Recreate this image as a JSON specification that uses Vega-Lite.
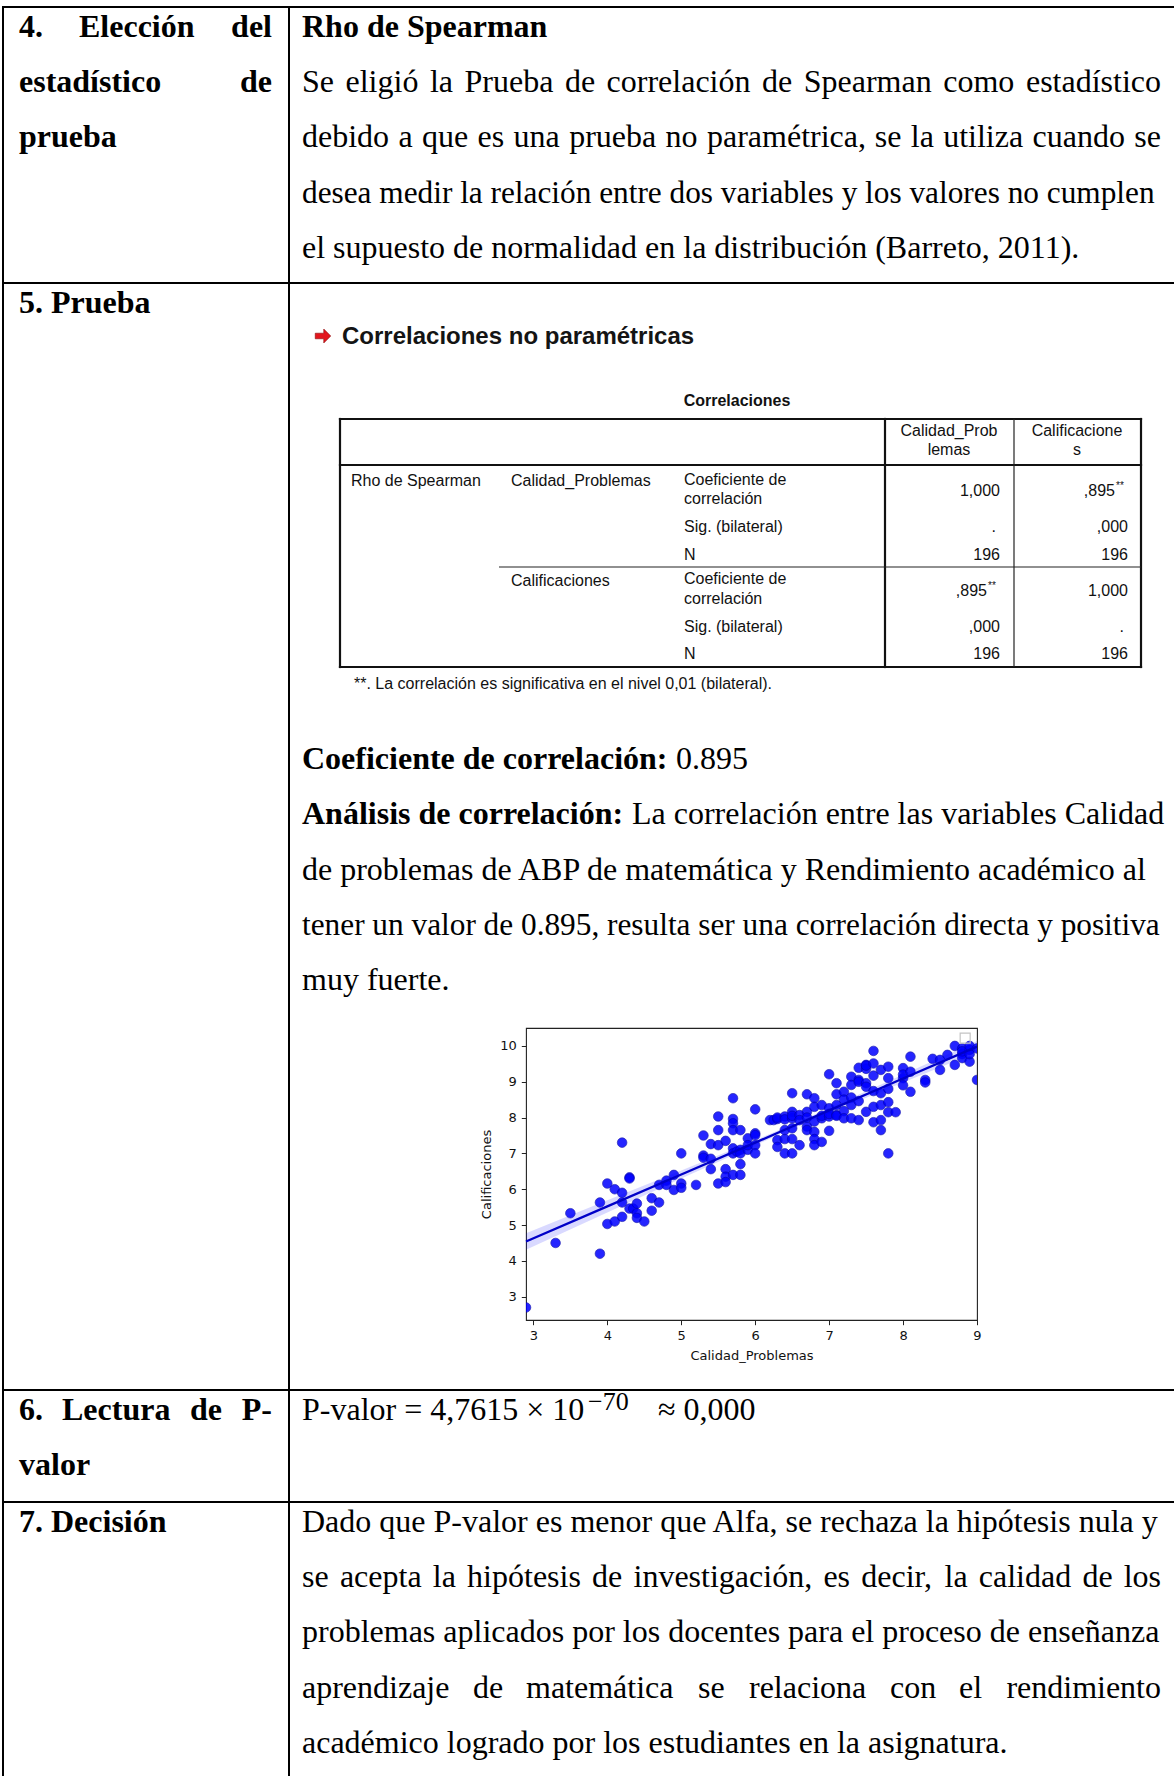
{
  "$schema": "https://vega.github.io/schema/vega-lite/v6.json",
  "width": 451,
  "height": 292,
  "padding": {"left": 526, "top": 1028, "right": 197, "bottom": 456},
  "autosize": {"type": "none"},
  "background": "#ffffff",
  "config": {"view": {"stroke": "#222222", "strokeWidth": 1.1}},
  "datasets": {
    "frameLines": [
      {"x": 3, "y": 7, "x2": 1174, "y2": 7},
      {"x": 3, "y": 7, "x2": 3, "y2": 1776},
      {"x": 289, "y": 7, "x2": 289, "y2": 1776},
      {"x": 3, "y": 283, "x2": 1174, "y2": 283},
      {"x": 3, "y": 1390, "x2": 1174, "y2": 1390},
      {"x": 3, "y": 1502, "x2": 1174, "y2": 1502}
    ],
    "spssThick": [
      {"x": 340, "y": 419, "x2": 1141, "y2": 419},
      {"x": 340, "y": 667, "x2": 1141, "y2": 667},
      {"x": 340, "y": 419, "x2": 340, "y2": 667},
      {"x": 1141, "y": 419, "x2": 1141, "y2": 667},
      {"x": 340, "y": 465, "x2": 1141, "y2": 465},
      {"x": 885, "y": 419, "x2": 885, "y2": 667}
    ],
    "spssThin": [
      {"x": 1014, "y": 419, "x2": 1014, "y2": 667},
      {"x": 499, "y": 567, "x2": 1141, "y2": 567}
    ],
    "bodyBoldL": [
      {"t": "4.", "x": 19, "y": 37},
      {"t": "Elección", "x": 79, "y": 37},
      {"t": "estadístico", "x": 19, "y": 92},
      {"t": "prueba", "x": 19, "y": 147},
      {"t": "Rho de Spearman", "x": 302, "y": 37},
      {"t": "5. Prueba", "x": 19, "y": 313},
      {"t": "Coeficiente de correlación:", "x": 302, "y": 769},
      {"t": "Análisis de correlación:", "x": 302, "y": 824},
      {"t": "6.", "x": 19, "y": 1420},
      {"t": "Lectura", "x": 62, "y": 1420},
      {"t": "de", "x": 190, "y": 1420},
      {"t": "valor", "x": 19, "y": 1475},
      {"t": "7. Decisión", "x": 19, "y": 1532}
    ],
    "bodyBoldR": [
      {"t": "del", "x": 272, "y": 37},
      {"t": "de", "x": 272, "y": 92},
      {"t": "P-", "x": 272, "y": 1420}
    ],
    "bodyL": [
      {"t": "Se", "x": 302, "y": 92},
      {"t": "eligió", "x": 345.5, "y": 92},
      {"t": "la", "x": 429.9, "y": 92},
      {"t": "Prueba", "x": 464.5, "y": 92},
      {"t": "de", "x": 564.9, "y": 92},
      {"t": "correlación", "x": 606.6, "y": 92},
      {"t": "de", "x": 762, "y": 92},
      {"t": "Spearman", "x": 803.7, "y": 92},
      {"t": "como", "x": 943.2, "y": 92},
      {"t": "debido", "x": 302, "y": 147},
      {"t": "a", "x": 398.5, "y": 147},
      {"t": "que", "x": 422, "y": 147},
      {"t": "es", "x": 477.6, "y": 147},
      {"t": "una", "x": 513.6, "y": 147},
      {"t": "prueba", "x": 569.2, "y": 147},
      {"t": "no", "x": 665.6, "y": 147},
      {"t": "paramétrica,", "x": 707, "y": 147},
      {"t": "se", "x": 874.7, "y": 147},
      {"t": "la", "x": 910.8, "y": 147},
      {"t": "utiliza", "x": 943.2, "y": 147},
      {"t": "cuando", "x": 1032.5, "y": 147},
      {"t": "el supuesto de normalidad en la distribución (Barreto, 2011).", "x": 302, "y": 258},
      {"t": "0.895", "x": 676, "y": 769},
      {"t": "La correlación entre las variables Calidad", "x": 632, "y": 824},
      {"t": "de problemas de ABP de matemática y Rendimiento académico al", "x": 302, "y": 880},
      {"t": "muy fuerte.", "x": 302, "y": 990},
      {"t": "P-valor = 4,7615 × 10", "x": 302, "y": 1420},
      {"t": "≈ 0,000", "x": 658, "y": 1420},
      {"t": "Dado que P-valor es menor que Alfa, se rechaza la hipótesis nula y", "x": 302, "y": 1532},
      {"t": "se", "x": 302, "y": 1587},
      {"t": "acepta", "x": 339.9, "y": 1587},
      {"t": "la", "x": 432.8, "y": 1587},
      {"t": "hipótesis", "x": 467.1, "y": 1587},
      {"t": "de", "x": 592.1, "y": 1587},
      {"t": "investigación,", "x": 633.5, "y": 1587},
      {"t": "es", "x": 823.4, "y": 1587},
      {"t": "decir,", "x": 861.3, "y": 1587},
      {"t": "la", "x": 944.5, "y": 1587},
      {"t": "calidad", "x": 978.8, "y": 1587},
      {"t": "de", "x": 1082.4, "y": 1587},
      {"t": "problemas aplicados por los docentes para el proceso de enseñanza", "x": 302, "y": 1642},
      {"t": "aprendizaje", "x": 302, "y": 1698},
      {"t": "de", "x": 473, "y": 1698},
      {"t": "matemática", "x": 526, "y": 1698},
      {"t": "se", "x": 698, "y": 1698},
      {"t": "relaciona", "x": 749, "y": 1698},
      {"t": "con", "x": 890, "y": 1698},
      {"t": "el", "x": 959, "y": 1698},
      {"t": "académico logrado por los estudiantes en la asignatura.", "x": 302, "y": 1753}
    ],
    "bodyR": [
      {"t": "estadístico", "x": 1161, "y": 92},
      {"t": "se", "x": 1161, "y": 147},
      {"t": "los", "x": 1161, "y": 1587},
      {"t": "rendimiento", "x": 1161, "y": 1698}
    ],
    "bodyTight": [
      {"t": "desea medir la relación entre dos variables y los valores no cumplen", "x": 302, "y": 203},
      {"t": "tener un valor de 0.895, resulta ser una correlación directa y positiva", "x": 302, "y": 935}
    ],
    "bodySup": [
      {"t": "−70", "x": 588, "y": 1410}
    ],
    "arrow": [{"x": 323, "y": 336}],
    "spssHeading": [{"t": "Correlaciones no paramétricas", "x": 342, "y": 344}],
    "spssTitle": [{"t": "Correlaciones", "x": 737, "y": 406}],
    "spssLeft": [
      {"t": "Rho de Spearman", "x": 351, "y": 486},
      {"t": "Calidad_Problemas", "x": 511, "y": 486},
      {"t": "Coeficiente de", "x": 684, "y": 485},
      {"t": "correlación", "x": 684, "y": 504},
      {"t": "Sig. (bilateral)", "x": 684, "y": 532},
      {"t": "N", "x": 684, "y": 560},
      {"t": "Calificaciones", "x": 511, "y": 586},
      {"t": "Coeficiente de", "x": 684, "y": 584},
      {"t": "correlación", "x": 684, "y": 604},
      {"t": "Sig. (bilateral)", "x": 684, "y": 632},
      {"t": "N", "x": 684, "y": 659}
    ],
    "spssRight": [
      {"t": "1,000", "x": 1000, "y": 496},
      {"t": ",895", "x": 1115, "y": 496},
      {"t": ".", "x": 996, "y": 532},
      {"t": ",000", "x": 1128, "y": 532},
      {"t": "196", "x": 1000, "y": 560},
      {"t": "196", "x": 1128, "y": 560},
      {"t": ",895", "x": 987, "y": 596},
      {"t": "1,000", "x": 1128, "y": 596},
      {"t": ",000", "x": 1000, "y": 632},
      {"t": ".", "x": 1124, "y": 632},
      {"t": "196", "x": 1000, "y": 659},
      {"t": "196", "x": 1128, "y": 659}
    ],
    "spssCenter": [
      {"t": "Calidad_Prob", "x": 949, "y": 436},
      {"t": "lemas", "x": 949, "y": 455},
      {"t": "Calificacione", "x": 1077, "y": 436},
      {"t": "s", "x": 1077, "y": 455}
    ],
    "spssSup": [
      {"t": "**", "x": 1116, "y": 489},
      {"t": "**", "x": 988, "y": 589}
    ],
    "spssNote": [
      {"t": "**. La correlación es significativa en el nivel 0,01 (bilateral).", "x": 354, "y": 689}
    ],
    "fit": [
      {"Calidad_Problemas": 2.9, "fit": 4.54, "lo": 4.31, "hi": 4.77},
      {"Calidad_Problemas": 4, "fit": 5.52, "lo": 5.35, "hi": 5.69},
      {"Calidad_Problemas": 5, "fit": 6.41, "lo": 6.3, "hi": 6.52},
      {"Calidad_Problemas": 6, "fit": 7.3, "lo": 7.23, "hi": 7.37},
      {"Calidad_Problemas": 6.5, "fit": 7.75, "lo": 7.69, "hi": 7.81},
      {"Calidad_Problemas": 7, "fit": 8.2, "lo": 8.13, "hi": 8.27},
      {"Calidad_Problemas": 8, "fit": 9.09, "lo": 8.98, "hi": 9.2},
      {"Calidad_Problemas": 9, "fit": 9.98, "lo": 9.82, "hi": 10.14}
    ],
    "scores": [
      {"Calidad_Problemas": 2.9, "Calificaciones": 2.7},
      {"Calidad_Problemas": 3.3, "Calificaciones": 4.5},
      {"Calidad_Problemas": 3.5, "Calificaciones": 5.33},
      {"Calidad_Problemas": 3.9, "Calificaciones": 4.2},
      {"Calidad_Problemas": 3.9, "Calificaciones": 5.63},
      {"Calidad_Problemas": 4.0, "Calificaciones": 6.16},
      {"Calidad_Problemas": 4.0, "Calificaciones": 5.03},
      {"Calidad_Problemas": 4.1, "Calificaciones": 6.0},
      {"Calidad_Problemas": 4.1, "Calificaciones": 5.1},
      {"Calidad_Problemas": 4.2, "Calificaciones": 7.3},
      {"Calidad_Problemas": 4.2, "Calificaciones": 5.9},
      {"Calidad_Problemas": 4.2, "Calificaciones": 5.63},
      {"Calidad_Problemas": 4.2, "Calificaciones": 5.23},
      {"Calidad_Problemas": 4.3, "Calificaciones": 6.33},
      {"Calidad_Problemas": 4.3, "Calificaciones": 6.3},
      {"Calidad_Problemas": 4.3, "Calificaciones": 5.46},
      {"Calidad_Problemas": 4.35, "Calificaciones": 5.46},
      {"Calidad_Problemas": 4.4, "Calificaciones": 5.6},
      {"Calidad_Problemas": 4.4, "Calificaciones": 5.33},
      {"Calidad_Problemas": 4.4, "Calificaciones": 5.2},
      {"Calidad_Problemas": 4.5, "Calificaciones": 5.1},
      {"Calidad_Problemas": 4.6, "Calificaciones": 5.75},
      {"Calidad_Problemas": 4.6, "Calificaciones": 5.4},
      {"Calidad_Problemas": 4.7, "Calificaciones": 5.63},
      {"Calidad_Problemas": 4.7, "Calificaciones": 6.12},
      {"Calidad_Problemas": 4.8, "Calificaciones": 6.24},
      {"Calidad_Problemas": 4.8, "Calificaciones": 6.12},
      {"Calidad_Problemas": 4.9, "Calificaciones": 6.4},
      {"Calidad_Problemas": 4.9, "Calificaciones": 5.98},
      {"Calidad_Problemas": 5.0, "Calificaciones": 7.0},
      {"Calidad_Problemas": 5.0, "Calificaciones": 6.16},
      {"Calidad_Problemas": 5.0, "Calificaciones": 6.04},
      {"Calidad_Problemas": 5.2, "Calificaciones": 6.12},
      {"Calidad_Problemas": 5.3, "Calificaciones": 7.5},
      {"Calidad_Problemas": 5.3, "Calificaciones": 6.94},
      {"Calidad_Problemas": 5.3, "Calificaciones": 6.88},
      {"Calidad_Problemas": 5.4, "Calificaciones": 7.26},
      {"Calidad_Problemas": 5.4, "Calificaciones": 6.56},
      {"Calidad_Problemas": 5.4, "Calificaciones": 6.85},
      {"Calidad_Problemas": 5.5, "Calificaciones": 8.03},
      {"Calidad_Problemas": 5.5, "Calificaciones": 7.65},
      {"Calidad_Problemas": 5.5, "Calificaciones": 7.23},
      {"Calidad_Problemas": 5.5, "Calificaciones": 6.16},
      {"Calidad_Problemas": 5.6, "Calificaciones": 7.35},
      {"Calidad_Problemas": 5.6, "Calificaciones": 6.56},
      {"Calidad_Problemas": 5.6, "Calificaciones": 6.35},
      {"Calidad_Problemas": 5.6, "Calificaciones": 6.2},
      {"Calidad_Problemas": 5.7, "Calificaciones": 8.54},
      {"Calidad_Problemas": 5.7, "Calificaciones": 7.96},
      {"Calidad_Problemas": 5.7, "Calificaciones": 7.84},
      {"Calidad_Problemas": 5.7, "Calificaciones": 7.65},
      {"Calidad_Problemas": 5.7, "Calificaciones": 7.14},
      {"Calidad_Problemas": 5.7, "Calificaciones": 7.0},
      {"Calidad_Problemas": 5.7, "Calificaciones": 6.4},
      {"Calidad_Problemas": 5.75, "Calificaciones": 7.05},
      {"Calidad_Problemas": 5.8, "Calificaciones": 7.65},
      {"Calidad_Problemas": 5.8, "Calificaciones": 7.1},
      {"Calidad_Problemas": 5.8, "Calificaciones": 6.7},
      {"Calidad_Problemas": 5.8, "Calificaciones": 6.4},
      {"Calidad_Problemas": 5.8, "Calificaciones": 7.0},
      {"Calidad_Problemas": 5.9, "Calificaciones": 7.42},
      {"Calidad_Problemas": 5.9, "Calificaciones": 7.1},
      {"Calidad_Problemas": 5.9, "Calificaciones": 7.23},
      {"Calidad_Problemas": 6.0, "Calificaciones": 8.23},
      {"Calidad_Problemas": 6.0, "Calificaciones": 7.56},
      {"Calidad_Problemas": 6.0, "Calificaciones": 7.51},
      {"Calidad_Problemas": 6.0, "Calificaciones": 7.23},
      {"Calidad_Problemas": 6.0, "Calificaciones": 7.0},
      {"Calidad_Problemas": 6.2, "Calificaciones": 7.93},
      {"Calidad_Problemas": 6.25, "Calificaciones": 7.93},
      {"Calidad_Problemas": 6.3, "Calificaciones": 7.96},
      {"Calidad_Problemas": 6.3, "Calificaciones": 7.37},
      {"Calidad_Problemas": 6.3, "Calificaciones": 7.18},
      {"Calidad_Problemas": 6.3, "Calificaciones": 8.0},
      {"Calidad_Problemas": 6.4, "Calificaciones": 8.03},
      {"Calidad_Problemas": 6.4, "Calificaciones": 7.65},
      {"Calidad_Problemas": 6.4, "Calificaciones": 7.4},
      {"Calidad_Problemas": 6.4, "Calificaciones": 7.0},
      {"Calidad_Problemas": 6.4, "Calificaciones": 7.95},
      {"Calidad_Problemas": 6.5, "Calificaciones": 8.68},
      {"Calidad_Problemas": 6.5, "Calificaciones": 8.16},
      {"Calidad_Problemas": 6.5, "Calificaciones": 7.98},
      {"Calidad_Problemas": 6.5, "Calificaciones": 7.7},
      {"Calidad_Problemas": 6.5, "Calificaciones": 7.4},
      {"Calidad_Problemas": 6.5, "Calificaciones": 7.0},
      {"Calidad_Problemas": 6.5, "Calificaciones": 8.05},
      {"Calidad_Problemas": 6.6, "Calificaciones": 8.07},
      {"Calidad_Problemas": 6.6, "Calificaciones": 7.23},
      {"Calidad_Problemas": 6.6, "Calificaciones": 7.93},
      {"Calidad_Problemas": 6.7, "Calificaciones": 8.65},
      {"Calidad_Problemas": 6.7, "Calificaciones": 8.16},
      {"Calidad_Problemas": 6.7, "Calificaciones": 7.75},
      {"Calidad_Problemas": 6.7, "Calificaciones": 7.65},
      {"Calidad_Problemas": 6.7, "Calificaciones": 8.0},
      {"Calidad_Problemas": 6.8, "Calificaciones": 8.54},
      {"Calidad_Problemas": 6.8, "Calificaciones": 8.3},
      {"Calidad_Problemas": 6.8, "Calificaciones": 7.89},
      {"Calidad_Problemas": 6.8, "Calificaciones": 7.6},
      {"Calidad_Problemas": 6.8, "Calificaciones": 7.4},
      {"Calidad_Problemas": 6.8, "Calificaciones": 7.23},
      {"Calidad_Problemas": 6.9, "Calificaciones": 8.35},
      {"Calidad_Problemas": 6.9, "Calificaciones": 7.98},
      {"Calidad_Problemas": 6.9, "Calificaciones": 7.32},
      {"Calidad_Problemas": 6.9, "Calificaciones": 8.05},
      {"Calidad_Problemas": 7.0, "Calificaciones": 9.21},
      {"Calidad_Problemas": 7.0, "Calificaciones": 8.26},
      {"Calidad_Problemas": 7.0, "Calificaciones": 8.03},
      {"Calidad_Problemas": 7.0, "Calificaciones": 7.63},
      {"Calidad_Problemas": 7.0, "Calificaciones": 8.1},
      {"Calidad_Problemas": 7.1, "Calificaciones": 8.96},
      {"Calidad_Problemas": 7.1, "Calificaciones": 8.65},
      {"Calidad_Problemas": 7.1, "Calificaciones": 8.35},
      {"Calidad_Problemas": 7.1, "Calificaciones": 8.07},
      {"Calidad_Problemas": 7.1, "Calificaciones": 8.05},
      {"Calidad_Problemas": 7.2, "Calificaciones": 8.72},
      {"Calidad_Problemas": 7.2, "Calificaciones": 8.18},
      {"Calidad_Problemas": 7.2, "Calificaciones": 7.98},
      {"Calidad_Problemas": 7.2, "Calificaciones": 8.5},
      {"Calidad_Problemas": 7.3, "Calificaciones": 9.14},
      {"Calidad_Problemas": 7.3, "Calificaciones": 8.91},
      {"Calidad_Problemas": 7.3, "Calificaciones": 8.56},
      {"Calidad_Problemas": 7.3, "Calificaciones": 8.35},
      {"Calidad_Problemas": 7.3, "Calificaciones": 7.98},
      {"Calidad_Problemas": 7.4, "Calificaciones": 9.39},
      {"Calidad_Problemas": 7.4, "Calificaciones": 9.05},
      {"Calidad_Problemas": 7.4, "Calificaciones": 8.46},
      {"Calidad_Problemas": 7.4, "Calificaciones": 7.93},
      {"Calidad_Problemas": 7.4, "Calificaciones": 9.0},
      {"Calidad_Problemas": 7.5, "Calificaciones": 9.47},
      {"Calidad_Problemas": 7.5, "Calificaciones": 9.36},
      {"Calidad_Problemas": 7.5, "Calificaciones": 8.96},
      {"Calidad_Problemas": 7.5, "Calificaciones": 8.86},
      {"Calidad_Problemas": 7.5, "Calificaciones": 8.16},
      {"Calidad_Problemas": 7.5, "Calificaciones": 9.45},
      {"Calidad_Problemas": 7.6, "Calificaciones": 9.86},
      {"Calidad_Problemas": 7.6, "Calificaciones": 9.51},
      {"Calidad_Problemas": 7.6, "Calificaciones": 9.17},
      {"Calidad_Problemas": 7.6, "Calificaciones": 8.74},
      {"Calidad_Problemas": 7.6, "Calificaciones": 8.3},
      {"Calidad_Problemas": 7.6, "Calificaciones": 7.87},
      {"Calidad_Problemas": 7.7, "Calificaciones": 9.33},
      {"Calidad_Problemas": 7.7, "Calificaciones": 8.68},
      {"Calidad_Problemas": 7.7, "Calificaciones": 8.35},
      {"Calidad_Problemas": 7.7, "Calificaciones": 7.93},
      {"Calidad_Problemas": 7.7, "Calificaciones": 7.65},
      {"Calidad_Problemas": 7.8, "Calificaciones": 9.42},
      {"Calidad_Problemas": 7.8, "Calificaciones": 9.1},
      {"Calidad_Problemas": 7.8, "Calificaciones": 8.8},
      {"Calidad_Problemas": 7.8, "Calificaciones": 8.43},
      {"Calidad_Problemas": 7.8, "Calificaciones": 8.15},
      {"Calidad_Problemas": 7.8, "Calificaciones": 7.0},
      {"Calidad_Problemas": 7.9, "Calificaciones": 8.15},
      {"Calidad_Problemas": 8.0, "Calificaciones": 9.38},
      {"Calidad_Problemas": 8.0, "Calificaciones": 9.1},
      {"Calidad_Problemas": 8.0, "Calificaciones": 8.9},
      {"Calidad_Problemas": 8.0, "Calificaciones": 9.2},
      {"Calidad_Problemas": 8.1, "Calificaciones": 9.7},
      {"Calidad_Problemas": 8.1, "Calificaciones": 9.28},
      {"Calidad_Problemas": 8.1, "Calificaciones": 8.72},
      {"Calidad_Problemas": 8.3, "Calificaciones": 9.05},
      {"Calidad_Problemas": 8.3, "Calificaciones": 8.98},
      {"Calidad_Problemas": 8.4, "Calificaciones": 9.64},
      {"Calidad_Problemas": 8.5, "Calificaciones": 9.61},
      {"Calidad_Problemas": 8.5, "Calificaciones": 9.33},
      {"Calidad_Problemas": 8.6, "Calificaciones": 9.75},
      {"Calidad_Problemas": 8.7, "Calificaciones": 10.0},
      {"Calidad_Problemas": 8.7, "Calificaciones": 9.47},
      {"Calidad_Problemas": 8.8, "Calificaciones": 9.93},
      {"Calidad_Problemas": 8.8, "Calificaciones": 9.77},
      {"Calidad_Problemas": 8.8, "Calificaciones": 9.66},
      {"Calidad_Problemas": 8.8, "Calificaciones": 9.85},
      {"Calidad_Problemas": 8.9, "Calificaciones": 9.89},
      {"Calidad_Problemas": 8.9, "Calificaciones": 9.56},
      {"Calidad_Problemas": 8.9, "Calificaciones": 9.77},
      {"Calidad_Problemas": 8.9, "Calificaciones": 10.0},
      {"Calidad_Problemas": 9.0, "Calificaciones": 9.05},
      {"Calidad_Problemas": 9.0, "Calificaciones": 9.93}
    ]
  },
  "layer": [
    {
      "encoding": {
        "x": {"field": "x", "type": "quantitative", "scale": {"domain": [0, 1174], "range": [-526, 648], "nice": false, "zero": false}, "axis": null},
        "y": {"field": "y", "type": "quantitative", "scale": {"domain": [0, 1776], "range": [-1028, 748], "nice": false, "zero": false}, "axis": null}
      },
      "layer": [
        {"data": {"name": "frameLines"}, "mark": {"type": "rule", "color": "#000000", "strokeWidth": 2, "strokeCap": "square"}, "encoding": {"x2": {"field": "x2"}, "y2": {"field": "y2"}}},
        {"data": {"name": "spssThick"}, "mark": {"type": "rule", "color": "#111111", "strokeWidth": 2.2, "strokeCap": "square"}, "encoding": {"x2": {"field": "x2"}, "y2": {"field": "y2"}}},
        {"data": {"name": "spssThin"}, "mark": {"type": "rule", "color": "#222222", "strokeWidth": 1.2}, "encoding": {"x2": {"field": "x2"}, "y2": {"field": "y2"}}},
        {"data": {"name": "bodyBoldL"}, "mark": {"type": "text", "align": "left", "baseline": "alphabetic", "font": "Liberation Serif, DejaVu Serif, serif", "fontSize": 32, "fontWeight": "bold", "color": "#000000"}, "encoding": {"text": {"field": "t"}}},
        {"data": {"name": "bodyBoldR"}, "mark": {"type": "text", "align": "right", "baseline": "alphabetic", "font": "Liberation Serif, DejaVu Serif, serif", "fontSize": 32, "fontWeight": "bold", "color": "#000000"}, "encoding": {"text": {"field": "t"}}},
        {"data": {"name": "bodyL"}, "mark": {"type": "text", "align": "left", "baseline": "alphabetic", "font": "Liberation Serif, DejaVu Serif, serif", "fontSize": 32, "color": "#000000"}, "encoding": {"text": {"field": "t"}}},
        {"data": {"name": "bodyR"}, "mark": {"type": "text", "align": "right", "baseline": "alphabetic", "font": "Liberation Serif, DejaVu Serif, serif", "fontSize": 32, "color": "#000000"}, "encoding": {"text": {"field": "t"}}},
        {"data": {"name": "bodyTight"}, "mark": {"type": "text", "align": "left", "baseline": "alphabetic", "font": "Liberation Serif, DejaVu Serif, serif", "fontSize": 31.3, "color": "#000000"}, "encoding": {"text": {"field": "t"}}},
        {"data": {"name": "bodySup"}, "mark": {"type": "text", "align": "left", "baseline": "alphabetic", "font": "Liberation Serif, DejaVu Serif, serif", "fontSize": 26, "color": "#000000"}, "encoding": {"text": {"field": "t"}}},
        {"data": {"name": "arrow"}, "mark": {"type": "point", "shape": "M -1 -0.36 L 0.1 -0.36 L 0.1 -0.9 L 1 0 L 0.1 0.9 L 0.1 0.36 L -1 0.36 Z", "size": 240, "filled": true, "color": "#e3161d", "stroke": "#8a0a0a", "strokeWidth": 0.6, "opacity": 1}},
        {"data": {"name": "spssHeading"}, "mark": {"type": "text", "align": "left", "baseline": "alphabetic", "font": "Liberation Sans, Arial, sans-serif", "fontSize": 24, "fontWeight": "bold", "color": "#141414"}, "encoding": {"text": {"field": "t"}}},
        {"data": {"name": "spssTitle"}, "mark": {"type": "text", "align": "center", "baseline": "alphabetic", "font": "Liberation Sans, Arial, sans-serif", "fontSize": 16, "fontWeight": "bold", "color": "#111111"}, "encoding": {"text": {"field": "t"}}},
        {"data": {"name": "spssLeft"}, "mark": {"type": "text", "align": "left", "baseline": "alphabetic", "font": "Liberation Sans, Arial, sans-serif", "fontSize": 16, "color": "#111111"}, "encoding": {"text": {"field": "t"}}},
        {"data": {"name": "spssRight"}, "mark": {"type": "text", "align": "right", "baseline": "alphabetic", "font": "Liberation Sans, Arial, sans-serif", "fontSize": 16, "color": "#111111"}, "encoding": {"text": {"field": "t"}}},
        {"data": {"name": "spssCenter"}, "mark": {"type": "text", "align": "center", "baseline": "alphabetic", "font": "Liberation Sans, Arial, sans-serif", "fontSize": 16, "color": "#111111"}, "encoding": {"text": {"field": "t"}}},
        {"data": {"name": "spssSup"}, "mark": {"type": "text", "align": "left", "baseline": "alphabetic", "font": "Liberation Sans, Arial, sans-serif", "fontSize": 10, "color": "#111111"}, "encoding": {"text": {"field": "t"}}},
        {"data": {"name": "spssNote"}, "mark": {"type": "text", "align": "left", "baseline": "alphabetic", "font": "Liberation Sans, Arial, sans-serif", "fontSize": 16, "color": "#111111"}, "encoding": {"text": {"field": "t"}}}
      ]
    },
    {
      "data": {"name": "scores"},
      "mark": {"type": "circle", "size": 92, "color": "#0000ff", "opacity": 0.85, "stroke": "#0000a8", "strokeWidth": 0.7, "clip": true},
      "encoding": {
        "x": {"field": "Calidad_Problemas", "type": "quantitative", "scale": {"domain": [2.9, 9], "nice": false, "zero": false},
          "axis": {"title": "Calidad_Problemas", "orient": "bottom", "values": [3, 4, 5, 6, 7, 8, 9], "format": "d", "grid": false, "domain": false, "ticks": true, "labels": true, "tickSize": 4.7, "tickColor": "#222222", "tickWidth": 1, "labelFont": "DejaVu Sans", "labelFontSize": 13, "labelColor": "#111111", "labelPadding": 5, "labelFlush": false, "labelOverlap": false, "titleFont": "DejaVu Sans", "titleFontSize": 13, "titleFontWeight": "normal", "titleColor": "#111111", "titlePadding": 7}},
        "y": {"field": "Calificaciones", "type": "quantitative", "scale": {"domain": [2.35, 10.5], "nice": false, "zero": false},
          "axis": {"title": "Calificaciones", "orient": "left", "values": [3, 4, 5, 6, 7, 8, 9, 10], "format": "d", "grid": false, "domain": false, "ticks": true, "labels": true, "tickSize": 4.7, "tickColor": "#222222", "tickWidth": 1, "labelFont": "DejaVu Sans", "labelFontSize": 13, "labelColor": "#111111", "labelPadding": 5, "labelFlush": false, "labelOverlap": false, "titleFont": "DejaVu Sans", "titleFontSize": 13, "titleFontWeight": "normal", "titleColor": "#111111", "titlePadding": 6}}
      }
    },
    {
      "data": {"name": "fit"},
      "mark": {"type": "area", "color": "#0000ff", "opacity": 0.15},
      "encoding": {
        "x": {"field": "Calidad_Problemas", "type": "quantitative", "scale": {"domain": [2.9, 9], "nice": false, "zero": false}, "axis": null},
        "y": {"field": "lo", "type": "quantitative", "scale": {"domain": [2.35, 10.5], "nice": false, "zero": false}, "axis": null},
        "y2": {"field": "hi"}
      }
    },
    {
      "data": {"name": "fit"},
      "mark": {"type": "line", "color": "#0000c8", "strokeWidth": 2.3},
      "encoding": {
        "x": {"field": "Calidad_Problemas", "type": "quantitative", "scale": {"domain": [2.9, 9], "nice": false, "zero": false}, "axis": null},
        "y": {"field": "fit", "type": "quantitative", "scale": {"domain": [2.35, 10.5], "nice": false, "zero": false}, "axis": null}
      }
    },
    {
      "data": {"values": [{}]},
      "mark": {"type": "square", "size": 100, "filled": false, "color": "#c4c4c4", "strokeWidth": 1.2, "opacity": 1},
      "encoding": {
        "x": {"datum": 8.84, "type": "quantitative", "scale": {"domain": [2.9, 9], "nice": false, "zero": false}, "axis": null},
        "y": {"datum": 10.22, "type": "quantitative", "scale": {"domain": [2.35, 10.5], "nice": false, "zero": false}, "axis": null}
      }
    }
  ],
  "resolve": {"scale": {"x": "independent", "y": "independent"}, "axis": {"x": "independent", "y": "independent"}}
}
